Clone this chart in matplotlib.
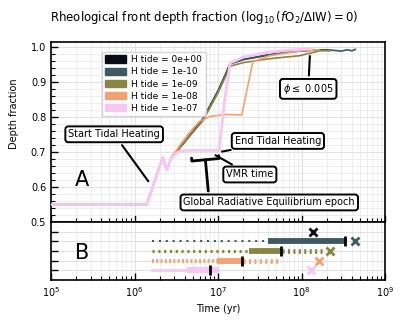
import numpy as np
import matplotlib
matplotlib.use("Agg")
import matplotlib.pyplot as plt
from matplotlib.patches import Patch
from matplotlib.ticker import MultipleLocator, LogLocator, NullFormatter

labels = ["H tide = 0e+00", "H tide = 1e-10", "H tide = 1e-09", "H tide = 1e-08", "H tide = 1e-07"]
colors = ["#0b0c16", "#3e5a60", "#8a8442", "#f2a272", "#f8c6f2"]

# panel A: rheological front depth fraction vs time
t_h0 = [1e5, 1.4e6, 2.18e6, 2.43e6, 2.79e6, 4e6, 6.6e6, 1.0e7, 1.4e7, 2e7, 4e7, 8e7, 1.36e8]
d_h0 = [0.55, 0.55, 0.686, 0.649, 0.686, 0.73, 0.795, 0.875, 0.953, 0.965, 0.978, 0.988, 0.992]

t_h10 = [1e5, 1.4e6, 2.18e6, 2.43e6, 2.79e6, 4e6, 6.6e6, 1.0e7, 1.4e7, 2e7, 4e7, 8e7, 1.36e8,
         2e8, 2.5e8, 3e8, 3.5e8, 4e8, 4.4e8]
d_h10 = [0.55, 0.55, 0.686, 0.649, 0.686, 0.73, 0.795, 0.875, 0.953, 0.965, 0.978, 0.988, 0.992,
         0.993, 0.991, 0.989, 0.993, 0.99, 0.994]

t_h9 = [1e5, 1.4e6, 2.18e6, 2.43e6, 2.79e6, 4e6, 6.6e6, 1.0e7, 1.4e7, 2e7, 4e7, 9.5e7, 1.65e8, 2.2e8]
d_h9 = [0.55, 0.55, 0.686, 0.649, 0.686, 0.73, 0.79, 0.87, 0.946, 0.956, 0.967, 0.976, 0.99, 0.99]

t_h8 = [1e5, 1.4e6, 2.18e6, 2.43e6, 2.79e6, 3.5e6, 4.5e6, 6e6, 8e6, 1.2e7, 1.92e7, 2.6e7, 4e7, 6e7,
        1e8, 1.6e8]
d_h8 = [0.55, 0.55, 0.686, 0.649, 0.686, 0.72, 0.755, 0.788, 0.802, 0.808, 0.806, 0.958, 0.975,
        0.982, 0.99, 0.993]

t_h7 = [1e5, 1.4e6, 2.18e6, 2.43e6, 2.79e6, 3.3e6, 4e6, 1.03e7, 1.2e7, 1.4e7, 2e7, 4e7, 8e7, 1.3e8]
d_h7 = [0.55, 0.55, 0.686, 0.649, 0.686, 0.70, 0.705, 0.705, 0.85, 0.955, 0.972, 0.986, 0.993, 0.996]

times = [t_h0, t_h10, t_h9, t_h8, t_h7]
depths = [d_h0, d_h10, d_h9, d_h8, d_h7]

# panel B: epochs per run (None = not present)
rows = [5, 4, 3, 2, 1]
dot_start = [None, 1.6e6, 1.6e6, 1.6e6, 1.6e6]
dot_end = [None, 4e7, 2.37e7, 9.6e6, 1e7]
bar_start = [None, 4e7, 2.37e7, 9.6e6, 4.2e6]
bar_end = [None, 3.4e8, 5.8e7, 2e7, 1e7]
vmr_time = [None, 3.3e8, 5.6e7, 1.93e7, 7.9e6]
dash_end = [None, None, 1.9e8, 5.5e7, None]
end_time = [1.36e8, 4.4e8, 2.2e8, 1.6e8, 1.3e8]

dot_styles = [None, (0, (1, 2.3)), (0, (0.7, 1.2)), (0, (0.5, 0.6)), "-"]
dot_widths = [0, 1.5, 2.2, 2.8, 2.0]

plt.rcParams["font.size"] = 7

fig = plt.figure(figsize=(4.08, 3.26), dpi=100)
axA = fig.add_axes([0.125, 0.319, 0.819, 0.552])
axB = fig.add_axes([0.125, 0.141, 0.819, 0.178], sharex=axA)

for i in range(5):
    lw = 2.0 if i == 4 else 1.2
    axA.plot(times[i], depths[i], color=colors[i], lw=lw, zorder=3 + i)

axA.set_xscale("log")
axA.set_xlim(1e5, 1e9)
axA.set_ylim(0.5, 1.015)
axA.yaxis.set_major_locator(MultipleLocator(0.1))
axA.yaxis.set_minor_locator(MultipleLocator(0.02))
axA.set_ylabel("Depth fraction")
axA.yaxis.set_label_coords(-0.095, 0.6)
plt.setp(axA.get_xticklabels(), visible=False)

handles = [Patch(facecolor=c, edgecolor=c) for c in colors]
axA.legend(handles, labels, loc="upper left", bbox_to_anchor=(0.138, 0.972),
           fontsize=6.5, handlelength=2.3, handleheight=0.85, labelspacing=0.35,
           borderpad=0.4, handletextpad=0.6, framealpha=0.8)

box = dict(boxstyle="round,pad=0.3", fc="white", ec="black", lw=1.4)
arr = dict(arrowstyle="-", lw=1.5, color="black")
axA.annotate("Start Tidal Heating", xy=(1.53e6, 0.61), xytext=(5.7e5, 0.751),
             ha="center", va="center", bbox=box, arrowprops=arr, zorder=20)
axA.annotate("End Tidal Heating", xy=(1.03e7, 0.70), xytext=(5.2e7, 0.732),
             ha="center", va="center", bbox=box, arrowprops=arr, zorder=20)
axA.annotate("VMR time", xy=(8.7e6, 0.695), xytext=(2.4e7, 0.636),
             ha="center", va="center", bbox=box, arrowprops=arr, zorder=20)
axA.annotate("Global Radiative Equilibrium epoch", xy=(7e6, 0.686), xytext=(4.1e7, 0.556),
             ha="center", va="center", bbox=box, zorder=20,
             arrowprops=dict(arrowstyle="-[, widthB=1.4, lengthB=0.3", lw=2, color="black",
                             relpos=(0.148, 1.0)))
axA.annotate(r"$\phi \leq$ 0.005", xy=(1.26e8, 0.983), xytext=(1.2e8, 0.881),
             ha="center", va="center", bbox=box, arrowprops=arr, zorder=20)
axA.text(0.093, 0.233, "A", transform=axA.transAxes, fontsize=15, ha="center", va="center")

for i in range(5):
    y = rows[i]
    if dot_start[i] is not None:
        axB.plot([dot_start[i], dot_end[i]], [y, y], color=colors[i],
                 ls=dot_styles[i], lw=dot_widths[i], zorder=3)
    if bar_start[i] is not None:
        axB.plot([bar_start[i], bar_end[i]], [y, y], color=colors[i], lw=4.2,
                 solid_capstyle="butt", zorder=4)
    if dash_end[i] is not None:
        axB.plot([bar_end[i], dash_end[i]], [y, y], color=colors[i],
                 ls=(0, (0.45, 0.7)), lw=3.4, zorder=3)
    if vmr_time[i] is not None:
        axB.plot(vmr_time[i], y, marker="|", color="black", ms=7, mew=2, zorder=5)
    axB.plot(end_time[i], y, marker="x", color=colors[i], ms=6, mew=2, zorder=5)

axB.set_ylim(0, 6)
axB.set_yticks([1, 2, 3, 4, 5])
axB.set_yticklabels([])
axB.set_xlabel("Time (yr)")
axB.text(0.093, 0.466, "B", transform=axB.transAxes, fontsize=15, ha="center", va="center")
axB.xaxis.set_major_locator(LogLocator(base=10, numticks=10))
axB.xaxis.set_minor_locator(LogLocator(base=10, subs=np.arange(2, 10), numticks=50))
axB.xaxis.set_minor_formatter(NullFormatter())

for ax in (axA, axB):
    ax.grid(True, which="major", color="#dcdcdc", lw=0.6)
    ax.grid(True, which="minor", color="#e8e8e8", lw=0.5)
    ax.set_axisbelow(True)
    ax.tick_params(which="both", direction="in", labelsize=7)
    ax.tick_params(which="major", length=5, width=1)
    ax.tick_params(which="minor", length=3, width=0.8)
    for s in ax.spines.values():
        s.set_linewidth(1.2)

fig.text(0.5, 0.947,
         r"Rheological front depth fraction ($\log_{10}(f\mathrm{O}_2/\Delta\mathrm{IW}) = 0$)",
         fontsize=8.5, ha="center", va="center")

fig.savefig("out.png", dpi=100)
